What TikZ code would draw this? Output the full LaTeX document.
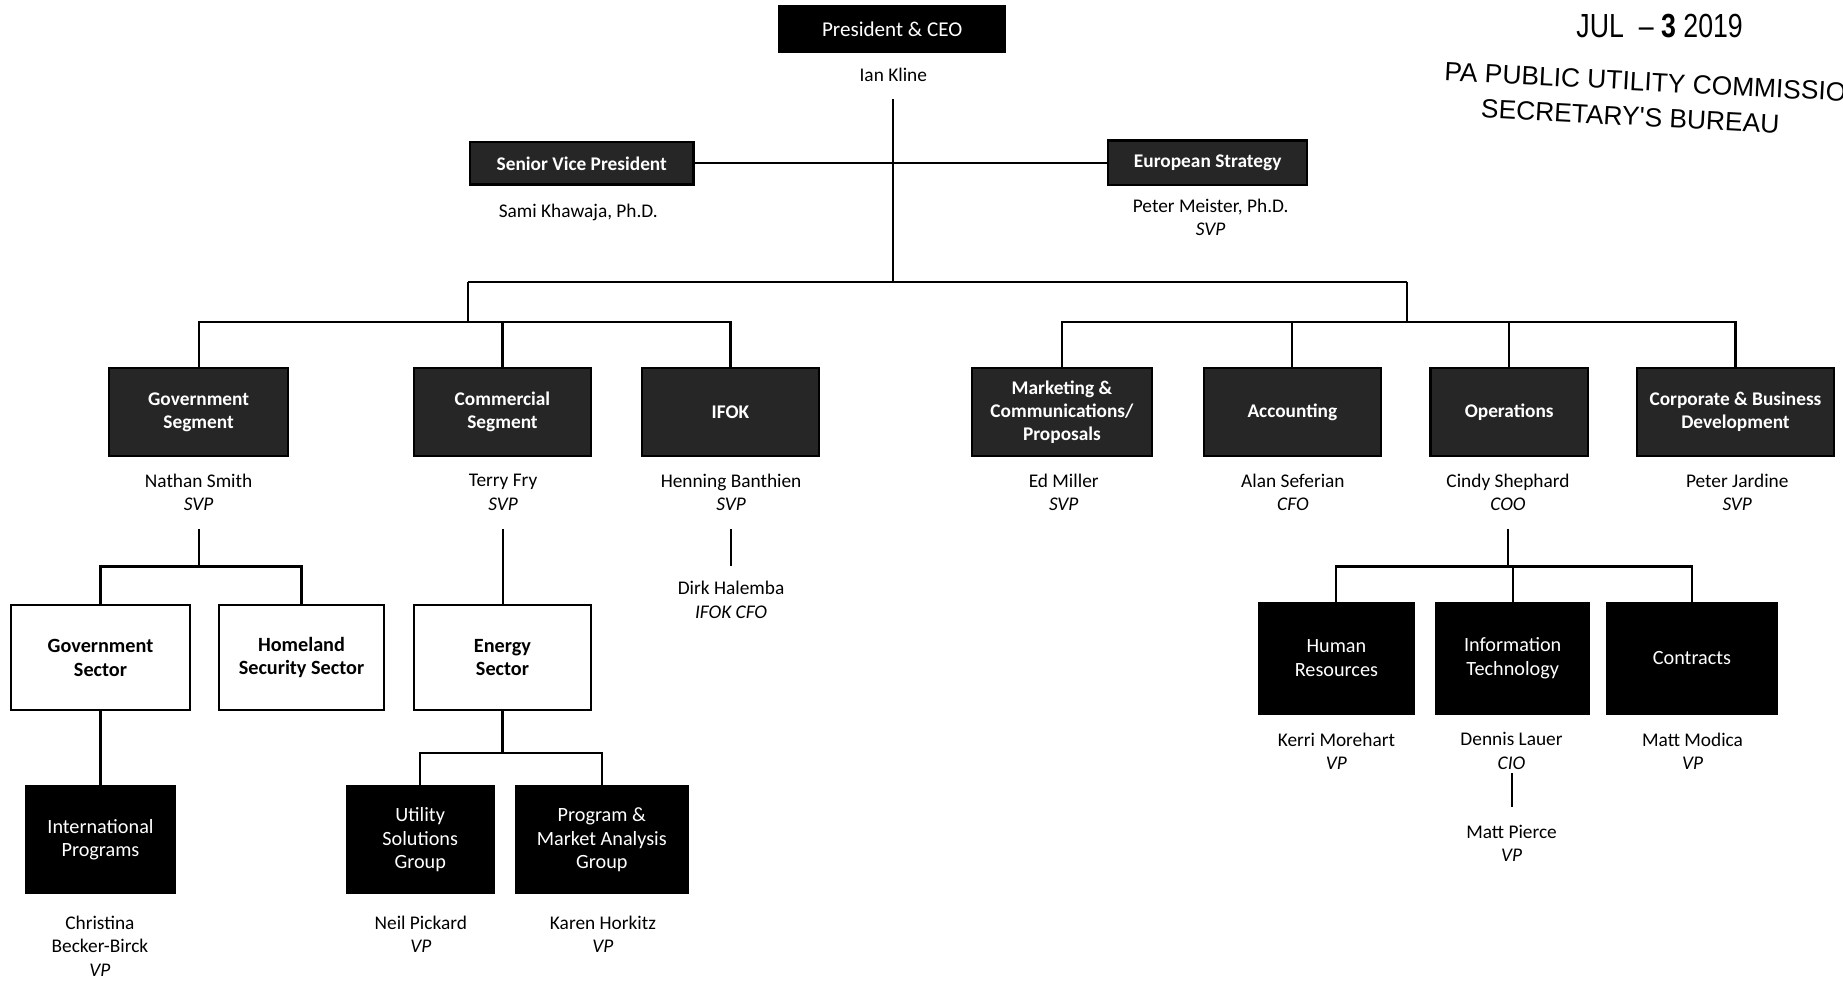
\documentclass[tikz,border=0pt]{standalone}
\usepackage{fontspec}
\setmainfont{Carlito}
\newfontfamily\stampfont{Liberation Sans}
\usetikzlibrary{positioning}
\def\px{0.0235cm}
\tikzset{
  orgbox/.style 2 args={draw=black, line width=1.2pt, inner sep=0pt, align=center,
    minimum width=#1*\px, minimum height=#2*\px},
  darkbox/.style={fill=black, text=white, font=\fontsize{11.5}{13.5}\selectfont},
  rough/.style={fill=black!85, text=white, font=\bfseries\fontsize{11}{13}\selectfont},
  plainbox/.style={fill=white, font=\bfseries\fontsize{11.5}{13.5}\selectfont},
  who/.style={align=center, inner sep=0pt, font=\fontsize{11}{13.4}\selectfont},
  link/.style={line width=1.2pt},
  stamp/.style={inner sep=0pt, font=\stampfont\fontsize{15}{15}\selectfont},
}
\begin{document}
\begin{tikzpicture}[x=0.0235cm, y=-0.0235cm]
\useasboundingbox[fill=white] (0,0) rectangle (1568,834);

% top
\node[orgbox={192}{39}, darkbox, font=\fontsize{12}{14}\selectfont] (ceo) at (759,24.5) {President \& CEO};
\node[who] (kline) at (760,64) {Ian Kline};
\node[orgbox={190}{36}, rough] (svp) at (495,139) {Senior Vice President};
\node[who] (khawaja) at (492,181) {Sami Khawaja, Ph.D.};
\node[orgbox={169}{38}, rough] (eur) at (1027.5,138.5) {European Strategy};
\node[who] (meister) at (1030,185) {Peter Meister, Ph.D.\\\textit{SVP}};

% segments
\node[orgbox={152}{75}, rough] (gov) at (169,350.5) {Government\\Segment};
\node[orgbox={151}{75}, rough] (com) at (427.5,350.5) {Commercial\\Segment};
\node[orgbox={151}{75}, rough] (ifok) at (621.5,350.5) {IFOK};
\node[orgbox={153}{75}, rough] (mkt) at (903.5,350.5) {Marketing \&\\Communications/\\Proposals};
\node[orgbox={151}{75}, rough] (acc) at (1099.5,350.5) {Accounting};
\node[orgbox={134}{75}, rough] (ops) at (1284,350.5) {Operations};
\node[orgbox={167}{75}, rough] (corp) at (1476.5,350.5) {Corporate \& Business\\Development};

\node[who] (smith) at (169,419) {Nathan Smith\\\textit{SVP}};
\node[who] (fry) at (428,419) {Terry Fry\\\textit{SVP}};
\node[who] (banthien) at (622,419) {Henning Banthien\\\textit{SVP}};
\node[who] (miller) at (905,419) {Ed Miller\\\textit{SVP}};
\node[who] (seferian) at (1100,419) {Alan Seferian\\\textit{CFO}};
\node[who] (shephard) at (1283,419) {Cindy Shephard\\\textit{COO}};
\node[who] (jardine) at (1478,419) {Peter Jardine\\\textit{SVP}};

% sectors and groups
\node[orgbox={153}{89}, plainbox] (govsec) at (85.5,559.5) {Government\\Sector};
\node[orgbox={141}{89}, plainbox] (homsec) at (256.5,559.5) {Homeland\\Security Sector};
\node[orgbox={151}{89}, plainbox] (energy) at (427.5,559.5) {Energy\\Sector};
\node[orgbox={127}{91}, darkbox] (intl) at (85.5,714.5) {International\\Programs};
\node[orgbox={125}{91}, darkbox] (util) at (357.5,714.5) {Utility\\Solutions\\Group};
\node[orgbox={146}{91}, darkbox] (pma) at (512,714.5) {Program \&\\Market Analysis\\Group};
\node[who] (halemba) at (622,510.5) {Dirk Halemba\\\textit{IFOK CFO}};

\node[who] (becker) at (85,805) {Christina\\Becker-Birck\\\textit{VP}};
\node[who] (pickard) at (358,795) {Neil Pickard\\\textit{VP}};
\node[who] (horkitz) at (513,795) {Karen Horkitz\\\textit{VP}};

\node[orgbox={132}{94}, darkbox] (hr) at (1137,560) {Human\\Resources};
\node[orgbox={130}{94}, darkbox] (it) at (1287,560) {Information\\Technology};
\node[orgbox={145}{94}, darkbox] (contracts) at (1439.5,560) {Contracts};
\node[who] (morehart) at (1137,639) {Kerri Morehart\\\textit{VP}};
\node[who] (lauer) at (1286,639) {Dennis Lauer\\\textit{CIO}};
\node[who] (modica) at (1440,639) {Matt Modica\\\textit{VP}};
\node[who] (pierce) at (1286,717.5) {Matt Pierce\\\textit{VP}};

% connectors
\coordinate (hub) at (760,240);
\coordinate (lhub) at (398,240);
\coordinate (rhub) at (1197,240);
\coordinate (lbar) at (398,274);
\coordinate (rbar) at (1197,274);
\draw[link] (kline) ++(0,20) -- (kline |- hub);
\draw[link] (svp.east) -- (svp.east -| eur.west);
\draw[link] (lhub) -- (rhub);
\draw[link] (lhub) -- (lbar);
\draw[link] (rhub) -- (rbar);
\draw[link] (gov.north) |- (ifok.north |- lbar) -- (ifok.north);
\draw[link] (com.north) -- (com.north |- lbar);
\draw[link] (mkt.north) |- (corp.north |- rbar) -- (corp.north);
\draw[link] (acc.north) -- (acc.north |- rbar);
\draw[link] (ops.north) -- (ops.north |- rbar);

\coordinate (nbar) at (175,482);
\draw[link] (smith) ++(0,31) -- (smith |- nbar);
\draw[link] (govsec.north) |- (homsec.north |- nbar) -- (homsec.north);
\draw[link] (govsec.south) -- (intl.north);
\draw[link] (fry) ++(0,31) -- (fry |- energy.north);
\coordinate (ebar) at (428,641);
\draw[link] (energy.south) -- (energy.south |- ebar);
\draw[link] (util.north) |- (pma.north |- ebar) -- (pma.north);
\draw[link, shorten >=8.5pt] (banthien) ++(0,31) -- (banthien |- halemba.north);

\coordinate (cbar) at (1283,482);
\draw[link] (shephard) ++(0,31) -- (shephard |- cbar);
\draw[link] (hr.north) |- (contracts.north |- cbar) -- (contracts.north);
\draw[link] (it.north) -- (it.north |- cbar);
\draw[link, shorten >=10pt] (lauer) ++(0,19) -- (lauer |- pierce.north);

% stamp
\node[stamp, font=\stampfont\fontsize{19}{19}\selectfont, xscale=0.8] (stampdate) at (1412,22) {JUL \ – \textbf{3} 2019};
\node[stamp, rotate=-3] (stampcom) at (1408,70) {PA PUBLIC UTILITY COMMISSION};
\node[stamp, rotate=-3] (stampbur) at (1387,99) {SECRETARY'S BUREAU};
\end{tikzpicture}
\end{document}
